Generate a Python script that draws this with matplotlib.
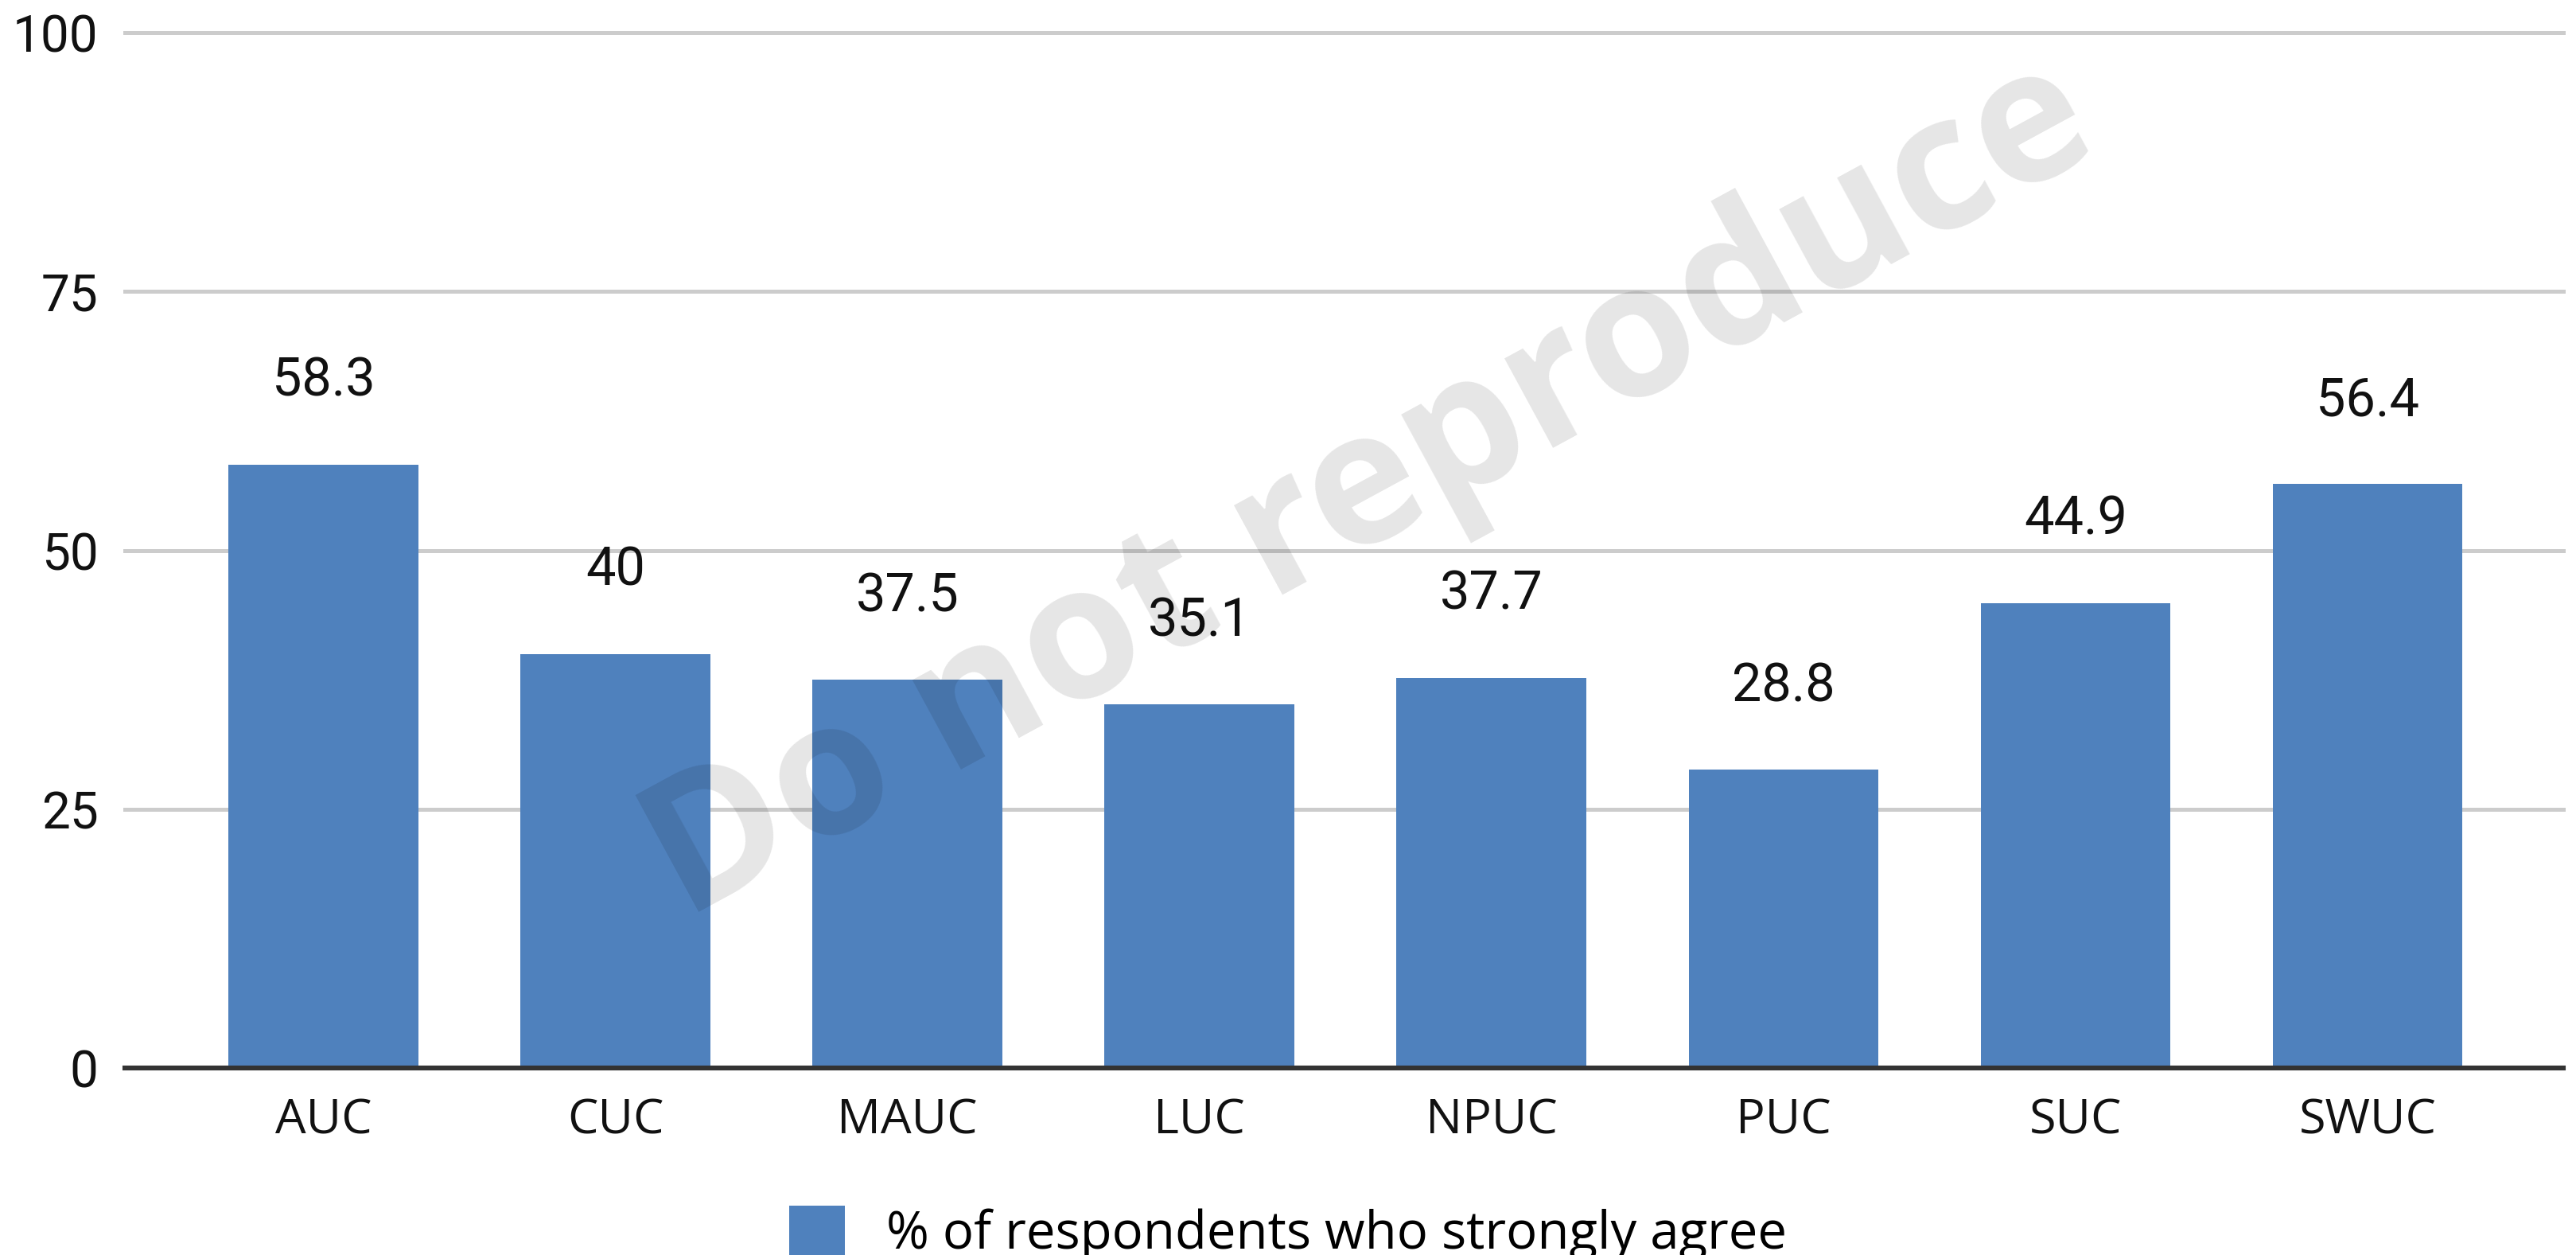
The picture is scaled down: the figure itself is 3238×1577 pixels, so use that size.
import matplotlib
matplotlib.use("Agg")
import matplotlib.pyplot as plt
import numpy as np

UNIVERSITIES = ["AUC", "CUC", "MAUC", "LUC", "NPUC", "PUC", "SUC", "SWUC"]
STRONGLY_AGREE = [58.3, 40, 37.5, 35.1, 37.7, 28.8, 44.9, 56.4]
VALUE_LABELS = ["58.3", "40", "37.5", "35.1", "37.7", "28.8", "44.9", "56.4"]
Y_TICKS = [0, 25, 50, 75, 100]
SERIES_NAME = "% of respondents who strongly agree"

BAR_BLUE = "#4f81bd"
LABEL_FONT = "Open Sans"
NUM_FONT = "Roboto"


def main():
    fig = plt.figure(figsize=(16.19, 7.885), dpi=200)
    ax = fig.add_axes([0.0485, 0.149, 0.9465, 0.825])

    x = np.arange(len(UNIVERSITIES))
    bars = ax.bar(x, STRONGLY_AGREE, 0.65, color=BAR_BLUE, label=SERIES_NAME, zorder=2)

    for xi, v, s in zip(x, STRONGLY_AGREE, VALUE_LABELS):
        ax.annotate(s, (xi, v), xytext=(0, 31), textcoords="offset points",
                    ha="center", va="baseline", fontsize=24, family=NUM_FONT, color="#111111")

    ax.set_xlim(-0.68, 7.67)
    ax.set_ylim(0, 100)
    ax.set_yticks(Y_TICKS)
    ax.set_yticklabels([str(t) for t in Y_TICKS], family=NUM_FONT, fontsize=23)
    ax.set_xticks(x)
    ax.set_xticklabels(UNIVERSITIES, family=LABEL_FONT, fontsize=22)
    ax.tick_params(axis="y", length=0, pad=12, colors="#111111")
    ax.tick_params(axis="x", length=0, pad=13, colors="#111111")

    ax.yaxis.grid(True, color="#cccccc", linewidth=1.8)
    for line in ax.get_ygridlines():
        line.set_clip_on(False)
    ax.set_axisbelow(True)
    for side in ["top", "right", "left"]:
        ax.spines[side].set_visible(False)
    ax.spines["bottom"].set_color("#333333")
    ax.spines["bottom"].set_linewidth(2.2)
    ax.spines["bottom"].set_zorder(3)

    fig.legend(handles=[bars], labels=[SERIES_NAME], loc="upper center",
               bbox_to_anchor=(0.5, 0.06), frameon=False, borderpad=0,
               handlelength=1.07, handleheight=1.1, handletextpad=0.8,
               prop={"family": LABEL_FONT, "size": 23.5})

    # watermark across the plot
    fig.text(0.532, 0.608, "Do not reproduce", rotation=28.5, ha="center", va="center",
             fontsize=84, fontweight="bold", family=LABEL_FONT,
             color="black", alpha=0.1, zorder=10)

    fig.savefig("out.png", dpi=200)


if __name__ == "__main__":
    main()
